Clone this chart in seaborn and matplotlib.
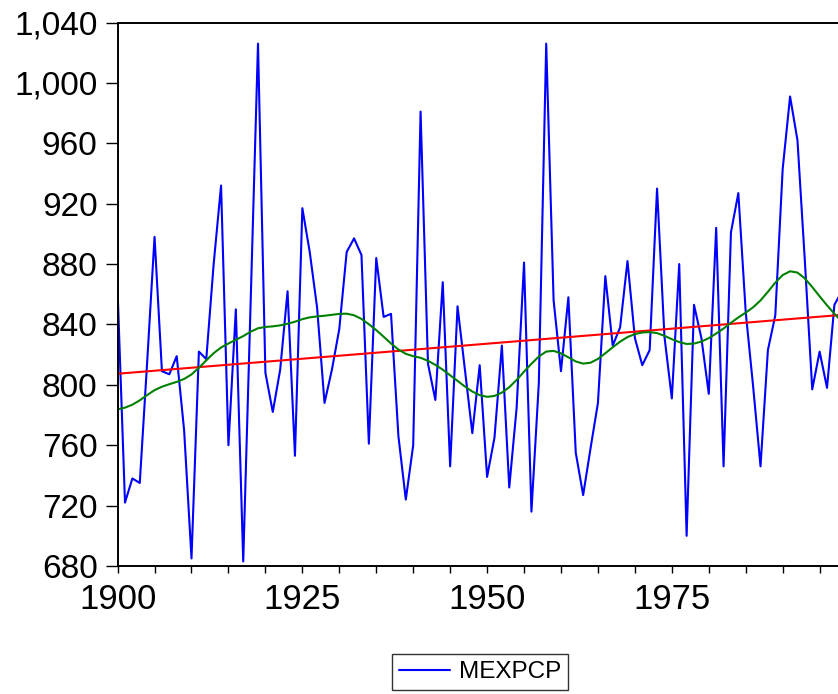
import numpy as np
import pandas as pd
import matplotlib
matplotlib.use("Agg")
import matplotlib.pyplot as plt
from matplotlib.ticker import FuncFormatter, MultipleLocator
import seaborn as sns

# Annual precipitation series, 1900-1998
years = list(range(1900, 1999))
mexpcp = [
    862, 722, 738, 735, 815, 898, 809, 807, 819, 770,
    685, 822, 817, 880, 932, 760, 850, 683, 854, 1026,
    808, 782, 810, 862, 753, 917, 888, 851, 788, 810,
    837, 888, 897, 886, 761, 884, 845, 847, 766, 724,
    760, 981, 814, 790, 868, 746, 852, 810, 768, 813,
    739, 765, 826, 732, 785, 881, 716, 801, 1026, 856,
    809, 858, 755, 727, 758, 788, 872, 826, 838, 882,
    831, 813, 823, 930, 832, 791, 880, 700, 853, 831,
    794, 904, 746, 901, 927, 848, 799, 746, 823, 846,
    943, 991, 962, 882, 797, 822, 798, 853, 862,
]
series_name = "MEXPCP"
y_ticks = [680, 720, 760, 800, 840, 880, 920, 960, 1000, 1040]
x_ticks = [1900, 1925, 1950, 1975]

df = pd.DataFrame({"year": years, series_name: mexpcp})
yv = df[series_name].to_numpy(dtype=float)
xv = df["year"].to_numpy(dtype=float)

# Linear trend (OLS) and Hodrick-Prescott trend (lambda = 100 for annual data)
slope, intercept = np.polyfit(xv, yv, 1)
df["linear"] = intercept + slope * xv
n = len(yv)
D = np.diff(np.eye(n), 2, axis=0)
df["hp"] = np.linalg.solve(np.eye(n) + 100.0 * D.T @ D, yv)

sns.set_theme(style="white")
plt.rcParams["font.family"] = ["Liberation Sans", "DejaVu Sans"]
plt.rcParams["text.color"] = "black"

fig = plt.figure(figsize=(8.38, 6.94), dpi=100)
ax = fig.add_axes([117.6 / 838, 128 / 694, (841.8 - 117.6) / 838, (566 - 22.5) / 694])

sns.lineplot(data=df, x="year", y=series_name, color="#0000FF", lw=1.5,
             ax=ax, label=series_name, legend=False)
sns.lineplot(data=df, x="year", y="linear", color="#FF0000", lw=1.5, ax=ax, legend=False)
sns.lineplot(data=df, x="year", y="hp", color="#008000", lw=1.5, ax=ax, legend=False)

ax.set_xlim(1900, 1998)
ax.set_ylim(680, 1040)
ax.set_xticks(x_ticks)
ax.xaxis.set_minor_locator(MultipleLocator(5))
ax.set_yticks(y_ticks)
ax.yaxis.set_major_formatter(FuncFormatter(lambda v, p: f"{v:,.0f}"))
ax.set_xlabel("")
ax.set_ylabel("")

for side in ["left", "bottom", "top"]:
    ax.spines[side].set_visible(True)
    ax.spines[side].set_color("black")
    ax.spines[side].set_linewidth(1.4)
ax.spines["right"].set_visible(False)

ax.tick_params(axis="x", which="both", direction="out", length=5, width=1,
               color="black", bottom=True, top=False, labelsize=25, pad=7,
               labelcolor="black")
ax.tick_params(axis="y", which="major", direction="out", length=8.4, width=1,
               color="black", left=True, right=False, labelsize=24, pad=6,
               labelcolor="black")
ax.grid(False)

handles, labels = ax.get_legend_handles_labels()
leg = fig.legend(handles[:1], labels[:1], loc="center",
                 bbox_to_anchor=(480 / 838, 22 / 694), fontsize=17.5,
                 frameon=True, fancybox=False, shadow=False,
                 handlelength=2.1, handletextpad=0.35, borderpad=0.3,
                 borderaxespad=0)
leg.get_frame().set_edgecolor("black")
leg.get_frame().set_linewidth(1.0)
for t in leg.get_texts():
    t.set_color("black")

fig.savefig("out.png", dpi=100, facecolor="white")
